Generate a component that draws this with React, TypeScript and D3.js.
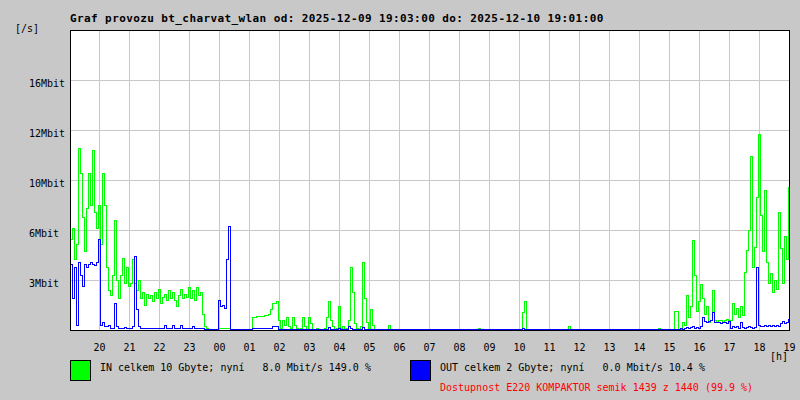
import React from 'react';
import * as d3 from 'd3';

// traffic samples, Mbit/s, one every 4 minutes from 19:02
const inValues = [
  5.8, 6.5, 4.5, 5.5, 11.6, 10.0, 7.2, 5.0, 7.8, 10.0,
  8.0, 11.5, 7.5, 6.5, 8.0, 5.5, 10.0, 8.0, 4.0, 2.5,
  2.2, 3.5, 7.0, 3.2, 2.0, 3.5, 4.6, 3.0, 4.0, 2.8,
  3.0, 4.5, 3.0, 2.5, 3.2, 2.0, 2.4, 1.6, 2.3, 2.0,
  2.2, 1.8, 2.4, 2.0, 2.6, 1.7, 2.1, 2.3, 1.9, 2.5,
  2.0, 2.4, 1.9, 1.5, 2.2, 2.6, 2.0, 2.3, 2.1, 2.7,
  2.0, 2.5, 1.9, 2.7, 2.2, 2.4, 1.0, 0.2, 0.1, 0,
  0, 0, 0, 0, 0.1, 0.1, 0.1, 0.1, 0.1, 0.1,
  0, 0, 0, 0, 0, 0, 0, 0, 0, 0,
  0, 0.8, 0.8, 0.85, 0.85, 0.85, 0.85, 0.9, 0.9, 1.0,
  1.3, 1.7, 1.7, 1.8, 0.6, 0.1, 0.6, 0.3, 0.8, 0.2,
  0.1, 0.8, 0.3, 0.1, 0, 0.1, 0.8, 0.2, 0, 0.8,
  0.4, 0, 0, 0.1, 0, 0, 0, 0.1, 0.8, 1.8,
  0.6, 0.2, 0, 0.1, 1.5, 0.1, 0.2, 0, 0.1, 0.6,
  4.0, 2.4, 0.4, 0.1, 0, 0.2, 4.3, 2.0, 0.5, 0.1,
  1.3, 0.3, 0, 0, 0, 0, 0, 0, 0, 0.3,
  0, 0, 0, 0, 0, 0, 0, 0, 0, 0,
  0, 0, 0, 0, 0, 0, 0, 0, 0, 0,
  0, 0, 0, 0, 0, 0, 0, 0, 0, 0,
  0, 0, 0, 0, 0, 0, 0, 0, 0, 0,
  0, 0, 0, 0, 0.1, 0, 0, 0, 0, 0,
  0, 0, 0, 0, 0, 0, 0, 0, 0, 0,
  0, 0, 0, 0, 0, 0, 1.1, 1.8, 0, 0,
  0, 0, 0, 0, 0, 0, 0, 0, 0, 0,
  0, 0, 0.05, 0, 0, 0, 0, 0, 0, 0.2,
  0, 0, 0, 0, 0, 0, 0, 0, 0, 0,
  0, 0, 0, 0, 0, 0, 0, 0, 0, 0,
  0, 0, 0, 0, 0, 0, 0, 0, 0, 0,
  0, 0, 0, 0, 0, 0, 0, 0, 0, 0,
  0, 0, 0, 0, 0.1, 0, 0, 0.05, 0, 0,
  0, 0, 1.2, 1.2, 0, 0, 0.5, 0.3, 2.2, 0.8,
  1.5, 5.7, 3.5, 1.2, 1.8, 2.9, 2.0, 1.0, 1.5, 0.5,
  0.6, 2.5, 0.6, 0.5, 0.6, 0.6, 0.5, 0.6, 0.7, 0.6,
  0.6, 1.7, 1.0, 1.4, 0.8, 1.5, 0.9, 3.7, 5.1, 6.4,
  11.1, 4.0, 5.3, 8.5, 12.5, 7.3, 5.0, 8.9, 4.3, 3.0,
  3.6, 2.4, 3.2, 2.6, 7.5, 5.2, 3.0, 6.0, 4.5, 9.1,
];

const outValues = [
  4.2, 2.0, 4.0, 0.3, 4.3, 3.5, 2.8, 4.2, 4.0, 4.2,
  4.3, 4.2, 4.1, 4.3, 5.8, 0.3, 0.5, 0.2, 0.2, 0.3,
  0.1, 0.1, 1.7, 0.2, 0.1, 0.1, 0.1, 0.15, 0.1, 0.1,
  0.1, 0.2, 4.7, 1.3, 0.2, 0.1, 0.1, 0.1, 0.1, 0.1,
  0.1, 0.1, 0.1, 0.1, 0.1, 0.1, 0.1, 0.3, 0.1, 0.1,
  0.1, 0.3, 0.1, 0.1, 0.1, 0.3, 0.1, 0.1, 0.1, 0.1,
  0.1, 0.2, 0.1, 0.1, 0.1, 0.1, 0.1, 0, 0, 0,
  0, 0, 0, 0, 1.9, 1.5, 1.6, 1.4, 4.5, 6.6,
  0, 0, 0, 0, 0, 0, 0, 0, 0, 0,
  0, 0.1, 0.1, 0.1, 0.1, 0.1, 0.1, 0.1, 0.1, 0.1,
  0.1, 0.2, 0.2, 0.2, 0, 0, 0, 0, 0, 0,
  0, 0, 0, 0, 0, 0, 0, 0, 0, 0,
  0, 0, 0, 0, 0, 0, 0, 0, 0, 0.15,
  0, 0, 0, 0, 0.1, 0, 0, 0, 0, 0.2,
  0.1, 0, 0, 0, 0, 0, 0.15, 0, 0, 0,
  0, 0, 0, 0, 0, 0, 0, 0, 0, 0,
  0, 0, 0, 0, 0, 0, 0, 0, 0, 0,
  0, 0, 0, 0, 0, 0, 0, 0, 0, 0,
  0, 0, 0, 0, 0, 0, 0, 0, 0, 0,
  0, 0, 0, 0, 0, 0, 0, 0, 0, 0,
  0, 0, 0, 0, 0, 0, 0, 0, 0, 0,
  0, 0, 0, 0, 0, 0, 0, 0, 0, 0,
  0, 0, 0, 0, 0, 0, 0.1, 0, 0, 0,
  0, 0, 0, 0, 0, 0, 0, 0, 0, 0,
  0, 0, 0, 0, 0, 0, 0, 0, 0, 0,
  0, 0, 0, 0, 0, 0, 0, 0, 0, 0,
  0, 0, 0, 0, 0, 0, 0, 0, 0, 0,
  0, 0, 0, 0, 0, 0, 0, 0, 0, 0,
  0, 0, 0, 0, 0, 0, 0, 0, 0, 0,
  0, 0, 0, 0, 0, 0, 0, 0, 0, 0,
  0, 0, 0, 0, 0, 0.1, 0.05, 0.1, 0.15, 0.1,
  0.15, 0.2, 0.1, 0.15, 0.1, 0.2, 0.8, 0.55, 0.5, 0.55,
  0.6, 1.1, 0.5, 0.45, 0.5, 0.4, 0.45, 0.5, 0.4, 0.55,
  0.1, 0.2, 0.15, 0.2, 0.1, 0.5, 0.15, 0.1, 0.15, 0.2,
  0.15, 0.1, 0.15, 4.0, 0.3, 0.2, 0.25, 0.3, 0.2, 0.3,
  0.25, 0.3, 0.2, 0.3, 0.25, 0.4, 0.55, 0.4, 0.5, 0.65,
];

const yTicks = [3.2, 6.4, 9.6, 12.8, 16];
const yTickLabels = ['3Mbit', '6Mbit', '10Mbit', '12Mbit', '16Mbit'];

const title = 'Graf provozu bt_charvat_wlan od: 2025-12-09 19:03:00 do: 2025-12-10 19:01:00';
const legendIn = 'IN celkem 10 Gbyte; nyní   8.0 Mbit/s 149.0 %';
const legendOut = 'OUT celkem 2 Gbyte; nyní   0.0 Mbit/s 10.4 %';
const availability = 'Dostupnost E220 KOMPAKTOR semik 1439 z 1440 (99.9 %)';

const W = 800;
const H = 400;
const FONT = '"DejaVu Sans Mono", "Liberation Mono", monospace';
const BG = '#c8c8c8';

const t0 = new Date(2025, 11, 9, 19, 0);
const t1 = new Date(2025, 11, 10, 19, 0);
const firstSample = new Date(2025, 11, 9, 19, 2);

const App: React.FC = () => {
  const x = d3.scaleTime().domain([t0, t1]).range([69, 789]);
  const y = d3.scaleLinear().domain([0, 19.2]).range([330, 30]);

  const toPoints = (vals: number[]) => {
    const pts: [Date, number][] = vals.map((v, i) => [d3.timeMinute.offset(firstSample, 4 * i), v]);
    pts.push([t1, vals[vals.length - 1]]);
    return pts;
  };

  const line = d3.line<[Date, number]>()
    .x(d => x(d[0]))
    .y(d => Math.min(y(d[1]), 329.5))
    .curve(d3.curveStepAfter);

  const hours = x.ticks(d3.timeHour.every(1)!).filter(h => +h > +t0);
  const fmt = d3.timeFormat('%H');

  return (
    <div style={{ position: 'absolute', left: 0, top: 0 }}>
      <svg width={W} height={H} style={{ display: 'block' }} fontFamily={FONT}>
        <rect x={0} y={0} width={W} height={H} fill={BG} />
        <text x={70} y={22} fontSize={11} fontWeight="bold" letterSpacing={0.4} fill="#000">{title}</text>
        <text x={15} y={32} fontSize={10} fill="#000">[/s]</text>

        <rect x={70} y={30} width={719} height={300} fill="#fff" />

        {hours.filter(h => +h < +t1).map((h, i) => (
          <line key={'vg' + i} x1={x(h) + 0.5} x2={x(h) + 0.5} y1={31} y2={330}
            stroke={BG} strokeWidth={1} shapeRendering="crispEdges" />
        ))}
        {yTicks.map((v, i) => (
          <line key={'hg' + i} x1={71} x2={789} y1={y(v) + 0.5} y2={y(v) + 0.5}
            stroke={BG} strokeWidth={1} shapeRendering="crispEdges" />
        ))}

        <path d={line(toPoints(inValues)) || ''} fill="none" stroke="#00ff00" strokeWidth={1} shapeRendering="crispEdges" />
        <path d={line(toPoints(outValues)) || ''} fill="none" stroke="#0000ff" strokeWidth={1} shapeRendering="crispEdges" />

        {/* frame */}
        <line x1={70.5} x2={70.5} y1={30} y2={331} stroke="#000" shapeRendering="crispEdges" />
        <line x1={789.5} x2={789.5} y1={30} y2={331} stroke="#000" shapeRendering="crispEdges" />
        <line x1={70} x2={790} y1={30.5} y2={30.5} stroke="#000" shapeRendering="crispEdges" />
        <line x1={70} x2={790} y1={330.5} y2={330.5} stroke="#000" shapeRendering="crispEdges" />

        {yTicks.map((v, i) => (
          <text key={'yl' + i} x={29} y={y(v) + 6.5} fontSize={10} fill="#000">{yTickLabels[i]}</text>
        ))}
        {hours.map((h, i) => (
          <text key={'xl' + i} x={x(h) + 0.5} y={351} fontSize={10} textAnchor="middle" fill="#000">{fmt(h)}</text>
        ))}
        <text x={770} y={360} fontSize={10} fill="#000">[h]</text>

        {/* legend */}
        <rect x={70.5} y={360.5} width={20} height={20} fill="#00ff00" stroke="#000" shapeRendering="crispEdges" />
        <text x={100} y={371} fontSize={10} fill="#000" style={{ whiteSpace: 'pre' }}>{legendIn}</text>
        <rect x={410.5} y={360.5} width={20} height={20} fill="#0000ff" stroke="#000" shapeRendering="crispEdges" />
        <text x={440} y={371} fontSize={10} fill="#000" style={{ whiteSpace: 'pre' }}>{legendOut}</text>
        <text x={440} y={391} fontSize={10} fill="#ff0000" style={{ whiteSpace: 'pre' }}>{availability}</text>
      </svg>
    </div>
  );
};

export default App;
